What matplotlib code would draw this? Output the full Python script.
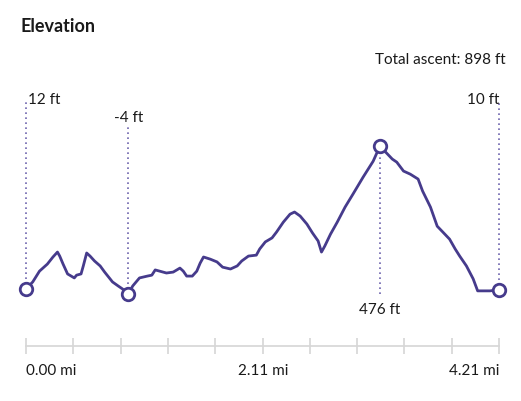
#!/usr/bin/env python
"""
elevation profile
"""
import numpy as np
import matplotlib
matplotlib.use("Agg")
import matplotlib.pyplot as plt

SIZE = np.array([521, 402])

dist_mi = [0.00, 0.06, 0.12, 0.19, 0.24, 0.28, 0.30, 0.33, 0.37, 0.43, 0.45, 0.49,
           0.51, 0.54, 0.57, 0.61, 0.66, 0.70, 0.77, 0.82, 0.86, 0.91, 0.95, 1.01,
           1.08, 1.12, 1.15, 1.19, 1.25, 1.31, 1.37, 1.40, 1.43, 1.48, 1.52, 1.55,
           1.58, 1.64, 1.70, 1.75, 1.82, 1.88, 1.92, 1.98, 2.05, 2.08, 2.13, 2.19,
           2.23, 2.29, 2.35, 2.39, 2.44, 2.50, 2.55, 2.60, 2.63, 2.66, 2.71, 2.77,
           2.84, 2.91, 3.00, 3.09, 3.15, 3.20, 3.26, 3.30, 3.36, 3.42, 3.49, 3.53,
           3.60, 3.66, 3.71, 3.77, 3.82, 3.86, 3.92, 3.98, 4.02, 4.13, 4.21]
elev_ft = [12, 35, 70, 93, 116, 132, 119, 93, 61, 48, 57, 61,
           87, 129, 119, 103, 87, 67, 35, 22, 12, -4, 22, 48,
           54, 57, 74, 70, 64, 67, 80, 70, 54, 54, 70, 96,
           116, 109, 100, 83, 77, 87, 103, 119, 122, 142, 165, 178,
           197, 229, 255, 262, 249, 223, 194, 168, 132, 152, 190, 229,
           278, 320, 375, 427, 476, 457, 434, 424, 395, 385, 369, 330,
           278, 216, 197, 174, 142, 119, 87, 45, 6, 6, 10]

# labelled points
marks_mi = [0.00, 0.91, 3.15, 4.21]
marks_ft = [12, -4, 476, 10]
mark_labels = ["12 ft", "-4 ft", "476 ft", "10 ft"]

tick_labels = ["0.00 mi", "2.11 mi", "4.21 mi"]
total_ascent = 898

LINE = "#463b8c"
DOT = "#6d63ad"

if __name__ == '__main__':

    fig = plt.figure(figsize=SIZE/100., dpi=100)
    W, H = SIZE
    left, right, top, bot = 26, 499, 100, 347
    ax = fig.add_axes([left/W, 1 - bot/H, (right-left)/W, (bot-top)/H])
    ax.set_xlim(0, 4.21)
    ax.set_ylim(-173, 629)
    ax.patch.set_alpha(0)
    for s in ["left", "right", "top"]:
        ax.spines[s].set_visible(False)
    ax.spines["bottom"].set_color("#d6d6d6")
    ax.spines["bottom"].set_linewidth(1.2)
    ax.set_yticks([])
    ax.set_xticks(np.linspace(0, 4.21, 11))
    ax.tick_params(axis="x", direction="inout", length=11, width=1.2,
                   color="#d6d6d6", labelbottom=False)

    font = "Lato"
    ax.plot(dist_mi, elev_ft, color=LINE, lw=2.0, solid_joinstyle="round", zorder=3)

    # dotted guides and labels
    tops = [619, 547, None, 619]
    label_y = [629, 570, -53, 629]
    aligns = ["left", "center", "center", "right"]
    dxs = [0.02, 0, 0, 0]
    for i, (mx, my, lab) in enumerate(zip(marks_mi, marks_ft, mark_labels)):
        if tops[i] is None:
            ax.vlines(mx, -4, my, colors=DOT, lw=1.2, linestyles=(0, (1, 2)),
                      zorder=2, clip_on=False)
        else:
            ax.vlines(mx, my, tops[i], colors=DOT, lw=1.2, linestyles=(0, (1, 2)),
                      zorder=2, clip_on=False)
        ax.text(mx + dxs[i], label_y[i], lab, ha=aligns[i], va="center",
                fontsize=11, family=font, color="#1a1a1a")
        ax.plot(mx, my, "o", ms=9, mfc="white", mec=LINE, mew=2.0, zorder=4, clip_on=False)

    tx = ax.get_xaxis_transform()
    ax.text(0, -0.097, tick_labels[0], transform=tx, ha="left", va="center",
            fontsize=11, family=font, color="#1a1a1a")
    ax.text(2.11, -0.097, tick_labels[1], transform=tx, ha="center", va="center",
            fontsize=11, family=font, color="#1a1a1a")
    ax.text(4.21, -0.097, tick_labels[2], transform=tx, ha="right", va="center",
            fontsize=11, family=font, color="#1a1a1a")

    fig.text(20/W, 1 - 27/H, "Elevation", ha="left", va="center",
             fontsize=13, fontweight="bold", family=font, color="#1a1a1a")
    fig.text(506/W, 1 - 60/H, "Total ascent: %d ft" % total_ascent, ha="right",
             va="center", fontsize=11, family=font, color="#1a1a1a")

    plt.savefig("out.png", dpi=100)
